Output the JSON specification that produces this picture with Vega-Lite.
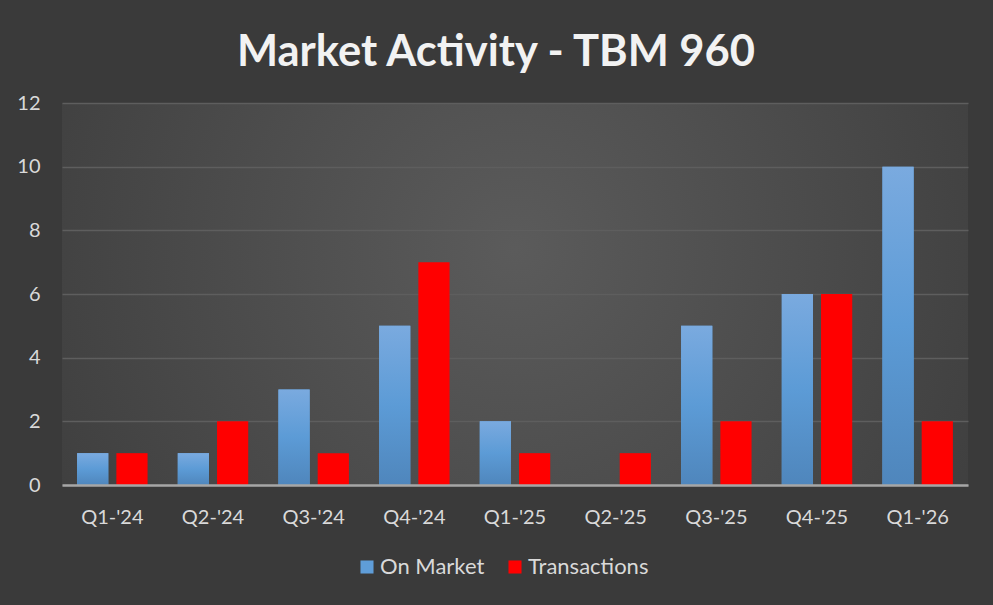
{
  "$schema": "https://vega.github.io/schema/vega-lite/v6.json",
  "width": 906,
  "height": 382,
  "autosize": {"type": "none"},
  "padding": {"left": 62, "top": 103, "right": 25, "bottom": 120},
  "background": "#3a3a3a",
  "title": {
    "text": "Market Activity - TBM 960",
    "font": "Lato",
    "fontSize": 43.5,
    "fontWeight": "bold",
    "color": "#f2f2f2",
    "anchor": "middle",
    "dx": -19,
    "offset": 18
  },
  "config": {
    "view": {
      "stroke": null,
      "fill": {
        "gradient": "radial",
        "x1": 0.5, "y1": 0.45, "r1": 0,
        "x2": 0.5, "y2": 0.45, "r2": 0.72,
        "stops": [
          {"offset": 0, "color": "#5b5b5b"},
          {"offset": 1, "color": "#383838"}
        ]
      }
    },
    "axis": {"labelFont": "Lato", "labelFontSize": 20, "labelColor": "#d9d9d9", "ticks": false, "title": null}
  },
  "data": {
    "values": [
      {"quarter": "Q1-'24", "series": "On Market", "count": 1},
      {"quarter": "Q1-'24", "series": "Transactions", "count": 1},
      {"quarter": "Q2-'24", "series": "On Market", "count": 1},
      {"quarter": "Q2-'24", "series": "Transactions", "count": 2},
      {"quarter": "Q3-'24", "series": "On Market", "count": 3},
      {"quarter": "Q3-'24", "series": "Transactions", "count": 1},
      {"quarter": "Q4-'24", "series": "On Market", "count": 5},
      {"quarter": "Q4-'24", "series": "Transactions", "count": 7},
      {"quarter": "Q1-'25", "series": "On Market", "count": 2},
      {"quarter": "Q1-'25", "series": "Transactions", "count": 1},
      {"quarter": "Q2-'25", "series": "On Market", "count": 0},
      {"quarter": "Q2-'25", "series": "Transactions", "count": 1},
      {"quarter": "Q3-'25", "series": "On Market", "count": 5},
      {"quarter": "Q3-'25", "series": "Transactions", "count": 2},
      {"quarter": "Q4-'25", "series": "On Market", "count": 6},
      {"quarter": "Q4-'25", "series": "Transactions", "count": 6},
      {"quarter": "Q1-'26", "series": "On Market", "count": 10},
      {"quarter": "Q1-'26", "series": "Transactions", "count": 2}
    ]
  },
  "encoding": {
    "x": {
      "field": "quarter",
      "type": "nominal",
      "sort": null,
      "scale": {"paddingInner": 0.3, "paddingOuter": 0.15},
      "axis": {"labelAngle": 0, "labelPadding": 32, "labelBaseline": "middle", "domain": true, "domainColor": "#a6a6a6", "domainWidth": 2.5, "grid": false, "zindex": 1}
    },
    "xOffset": {
      "field": "series",
      "type": "nominal",
      "scale": {"domain": ["On Market", "Transactions"], "paddingInner": 0.205, "paddingOuter": 0}
    },
    "y": {
      "field": "count",
      "type": "quantitative",
      "scale": {"domain": [0, 12], "nice": false},
      "axis": {"values": [0, 2, 4, 6, 8, 10, 12], "domain": false, "grid": true, "gridColor": "#5e5e5e", "gridWidth": 1.5, "labelPadding": 22}
    }
  },
  "layer": [
    {
      "mark": {"type": "bar"},
      "encoding": {
        "color": {
          "field": "series",
          "type": "nominal",
          "scale": {"domain": ["On Market", "Transactions"], "range": ["#5f9dd8", "#ff0000"]},
          "legend": {
            "title": null,
            "orient": "none",
            "direction": "horizontal",
            "legendX": 294,
            "legendY": 453,
            "symbolType": "square",
            "symbolSize": 170,
            "symbolStrokeWidth": 0,
            "symbolOpacity": 1,
            "labelFont": "Lato",
            "labelFontSize": 22,
            "labelColor": "#d9d9d9",
            "columnPadding": 19,
            "labelOffset": 2
          }
        }
      }
    },
    {
      "transform": [{"filter": "datum.series === 'On Market'"}],
      "mark": {
        "type": "bar",
        "color": {
          "gradient": "linear", "x1": 0, "y1": 0, "x2": 0, "y2": 1,
          "stops": [{"offset": 0, "color": "#7aaadf"}, {"offset": 0.5, "color": "#5c9bd6"}, {"offset": 1, "color": "#4f86bc"}]
        }
      }
    }
  ]
}
